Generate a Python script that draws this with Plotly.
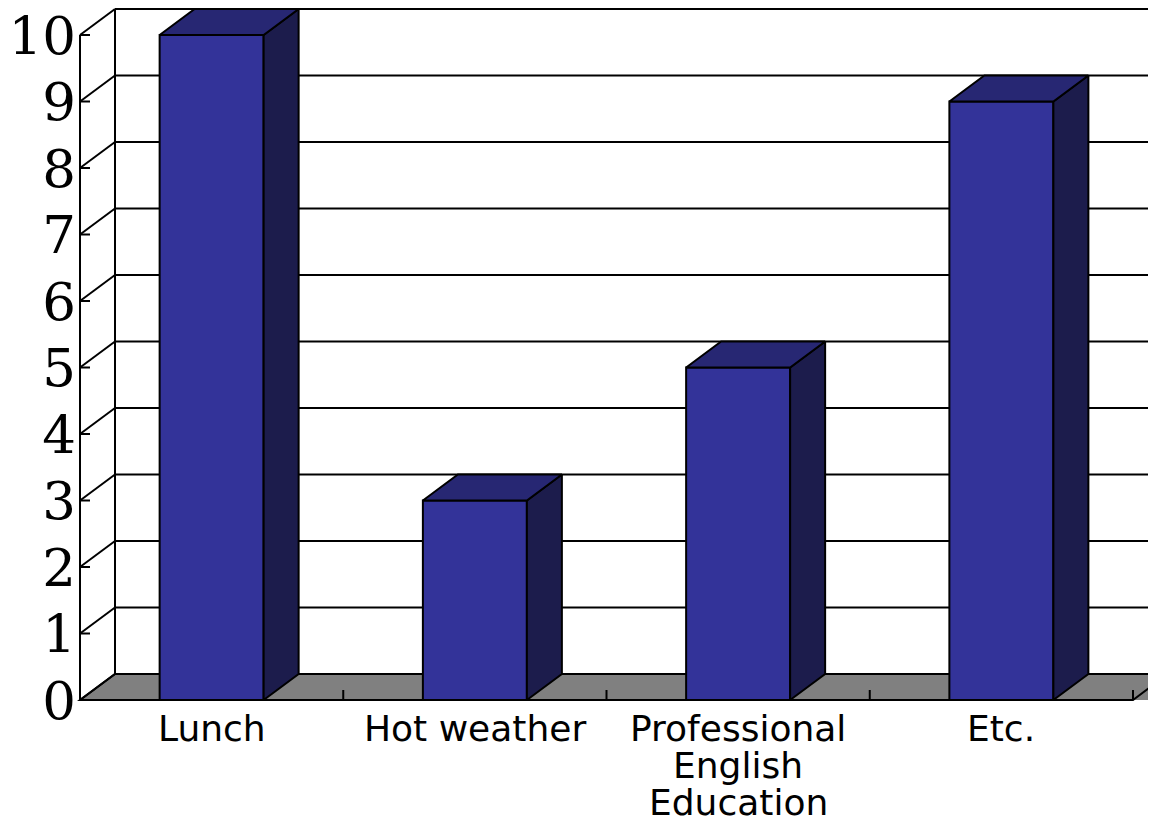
import plotly.graph_objects as go

# ---------------- data ----------------
categories = ["Lunch", "Hot weather", "Professional English Education", "Etc."]
label_lines = [["Lunch"], ["Hot weather"], ["Professional", "English", "Education"], ["Etc."]]
values = [10, 3, 5, 9]
y_ticks = [0, 1, 2, 3, 4, 5, 6, 7, 8, 9, 10]

# ---------------- style / geometry ----------------
FRONT = "#333399"
TOP = "#272773"
SIDE = "#1c1c4c"
FLOOR = "#808080"

# the page body adds an 8px margin, so the figure is 8px smaller each way
FIG_W, FIG_H = 1148, 816
PX_X = 263.25          # pixels per category
PX_Y = 66.5            # pixels per value unit
DX = 35 / PX_X         # depth offset (x)
DY = 26 / PX_Y         # depth offset (y)
BAR_W = 104 / PX_X
n = len(categories)
X0 = -0.5
X1 = n - 0.5

M_L, M_B = 69, 120
plot_w = FIG_W - M_L
plot_h = FIG_H - M_B
xmin = X0 - 3 / PX_X
xmax = xmin + plot_w / PX_X
ymax = 692 / PX_Y
ymin = ymax - plot_h / PX_Y
XFAR = xmax + 1

shapes = []
# floor
shapes.append(dict(
    type="path", xref="x", yref="y", layer="below",
    path=f"M {X0},0 L {X1},0 L {X1+DX},{DY} L {XFAR},{DY} L {XFAR},0 L {X1+DX},0 "
         f"M {X0},0 L {X1},0 L {X1+DX},{DY} L {X0+DX},{DY} Z",
    fillcolor=FLOOR, line=dict(color="black", width=2)))
# back wall left edge
shapes.append(dict(type="line", xref="x", yref="y", layer="below",
                   x0=X0 + DX, x1=X0 + DX, y0=DY, y1=max(y_ticks) + DY,
                   line=dict(color="black", width=2)))
# back wall gridlines
for v in y_ticks[1:]:
    shapes.append(dict(type="line", xref="x", yref="y", layer="below",
                       x0=X0 + DX, x1=XFAR, y0=v + DY, y1=v + DY,
                       line=dict(color="black", width=2)))
# side wall lines and front ticks
for v in y_ticks:
    shapes.append(dict(type="line", xref="x", yref="y", layer="below",
                       x0=X0, x1=X0 + DX, y0=v, y1=v + DY,
                       line=dict(color="black", width=2)))
    shapes.append(dict(type="line", xref="x", yref="y", layer="below",
                       x0=X0, x1=X0 + 10 / PX_X, y0=v, y1=v,
                       line=dict(color="black", width=2)))
# front value axis
shapes.append(dict(type="line", xref="x", yref="y", layer="below",
                   x0=X0, x1=X0, y0=0, y1=max(y_ticks),
                   line=dict(color="black", width=2)))
# category ticks on floor front edge
for i in range(n):
    xt = i + 0.5
    shapes.append(dict(type="line", xref="x", yref="y", layer="below",
                       x0=xt, x1=xt, y0=0, y1=10 / PX_Y,
                       line=dict(color="black", width=2)))

fig = go.Figure()
fig.add_trace(go.Bar(
    x=list(range(n)), y=values, width=BAR_W,
    marker=dict(color=FRONT, line=dict(color="black", width=2)),
    hoverinfo="skip", showlegend=False))

for i, v in enumerate(values):
    xl = i - BAR_W / 2
    xr = i + BAR_W / 2
    # side face
    fig.add_trace(go.Scatter(
        x=[xr, xr + DX, xr + DX, xr, xr], y=[0, DY, v + DY, v, 0],
        mode="lines", fill="toself", fillcolor=SIDE,
        line=dict(color="black", width=2), hoverinfo="skip", showlegend=False))
    # top face
    fig.add_trace(go.Scatter(
        x=[xl, xr, xr + DX, xl + DX, xl], y=[v, v, v + DY, v + DY, v],
        mode="lines", fill="toself", fillcolor=TOP,
        line=dict(color="black", width=2), hoverinfo="skip", showlegend=False))

annotations = []
for i, lines in enumerate(label_lines):
    for j, txt in enumerate(lines):
        annotations.append(dict(
            x=i, y=0, xref="x", yref="y", text=txt, showarrow=False,
            xanchor="center", yanchor="top", yshift=-6 - 37 * j,
            font=dict(family="DejaVu Sans", size=36, color="black")))

fig.update_layout(
    width=FIG_W, height=FIG_H,
    margin=dict(l=M_L, r=0, t=0, b=M_B),
    paper_bgcolor="white", plot_bgcolor="white",
    shapes=shapes, annotations=annotations,
    showlegend=False,
    xaxis=dict(range=[xmin, xmax], showgrid=False, zeroline=False,
               showticklabels=False, ticks="", showline=False, fixedrange=True,
               automargin=False),
    yaxis=dict(range=[ymin, ymax], showgrid=False, zeroline=False,
               tickmode="array", tickvals=y_ticks,
               ticktext=[str(t) for t in y_ticks],
               tickfont=dict(family="DejaVu Serif", size=53, color="black"),
               ticks="", showline=False, ticklabelstandoff=0, ticklabelshift=0,
               ticklabeloverflow="allow",
               fixedrange=True, automargin=False),
)

fig.write_html("out.html")
